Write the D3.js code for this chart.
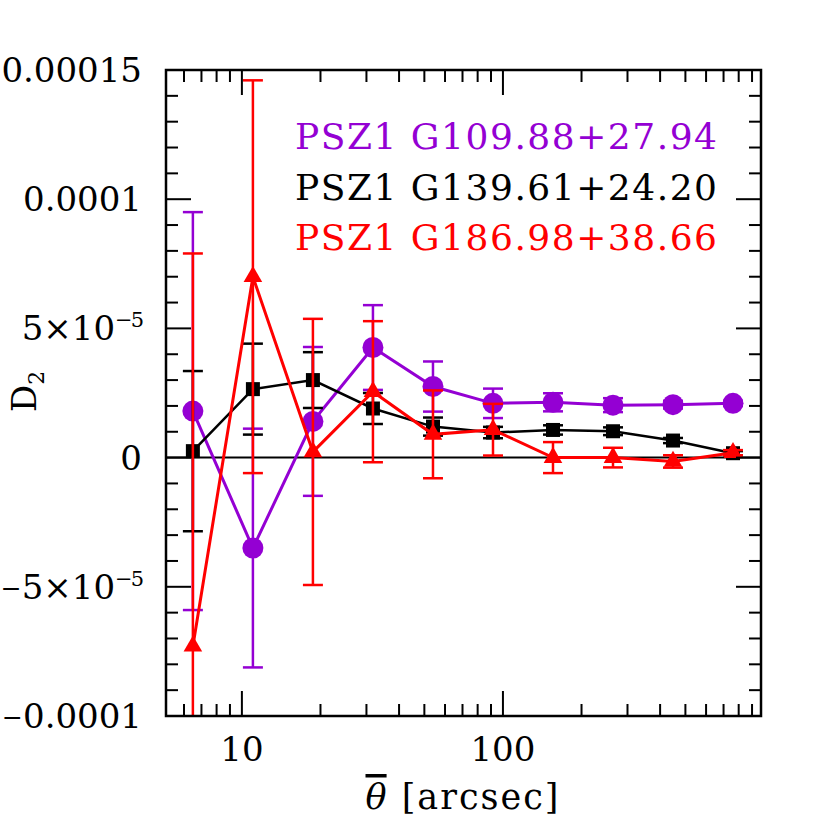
<!DOCTYPE html>
<html>
<head>
<meta charset="utf-8">
<script src="https://cdn.jsdelivr.net/npm/d3@7"></script>
<style>
  html, body { margin: 0; padding: 0; background: #fff; }
  svg text { font-family: "DejaVu Serif", serif; }
</style>
</head>
<body>
<svg id="chart" width="830" height="830"></svg>
<script>
// ---- data ----
const theta = [6.49, 11.02, 18.71, 31.77, 53.95, 91.6, 155.5, 264.0, 448.2, 760.8];

const seriesNames = ["PSZ1 G109.88+27.94", "PSZ1 G139.61+24.20", "PSZ1 G186.98+38.66"];
const seriesColors = ["#9400d3", "#000000", "#ff0000"];

// D2 values in units of 1e-5
const purpleD2  = [1.8, -3.5, 1.4, 4.26, 2.75, 2.1, 2.14, 2.03, 2.05, 2.1];
const purpleErr = [7.7, 4.62, 2.88, 1.64, 0.97, 0.57, 0.35, 0.27, 0.15, 0.1];
const blackD2   = [0.25, 2.65, 3.0, 1.9, 1.2, 0.97, 1.07, 1.02, 0.66, 0.17];
const blackErr  = [3.1, 1.76, 1.08, 0.6, 0.35, 0.22, 0.18, 0.15, 0.1, 0.08];
const redD2     = [-7.3, 7.0, 0.22, 2.55, 0.9, 1.08, 0.0, 0.0, -0.15, 0.19];
const redErr    = [15.2, 7.6, 5.15, 2.73, 1.7, 1.0, 0.6, 0.38, 0.24, 0.1];

const xMajorTicks = [10, 100];
const xMinorTicks = [6, 7, 8, 9, 20, 30, 40, 50, 60, 70, 80, 90, 200, 300, 400, 500, 600, 700, 800, 900];
const yMajorTicks = [-0.0001, -0.00005, 0, 0.00005, 0.0001, 0.00015];
// sign | mantissa | exponent
const yTickLabels = [["\u2212", "0.0001", ""], ["\u2212", "5\u00d710", "\u22125"], ["", "0", ""],
                     ["", "5\u00d710", "\u22125"], ["", "0.0001", ""], ["", "0.00015", ""]];
const yMinorStep = 0.00001;

const xDomain = [5.12, 974];
const yDomain = [-0.0001, 0.00015];

// ---- layout ----
const L = 166, T = 70, R = 761, B = 716;
const svg = d3.select("#chart");

const x = d3.scaleLog().domain(xDomain).range([L, R]);
const y = d3.scaleLinear().domain(yDomain).range([B, T]);

const series = [
  { name: seriesNames[0], color: seriesColors[0], v: purpleD2, e: purpleErr, marker: "circle", lw: 3 },
  { name: seriesNames[1], color: seriesColors[1], v: blackD2,  e: blackErr,  marker: "square", lw: 2.5 },
  { name: seriesNames[2], color: seriesColors[2], v: redD2,    e: redErr,    marker: "triangle", lw: 3 }
];

svg.append("defs").append("clipPath").attr("id", "plotclip")
  .append("rect").attr("x", L).attr("y", T).attr("width", R - L).attr("height", B - T);

const plot = svg.append("g").attr("clip-path", "url(#plotclip)");

// zero line
plot.append("line")
  .attr("x1", L).attr("x2", R).attr("y1", y(0)).attr("y2", y(0))
  .attr("stroke", "#000").attr("stroke-width", 2);

const capW = 10;
series.forEach(s => {
  const g = plot.append("g");
  const pts = theta.map((t, i) => ({ t, v: s.v[i] * 1e-5, e: s.e[i] * 1e-5 }));
  pts.forEach(p => {
    const cx = x(p.t);
    const y1 = y(p.v + p.e), y2 = y(p.v - p.e);
    g.append("line").attr("x1", cx).attr("x2", cx).attr("y1", y1).attr("y2", y2)
      .attr("stroke", s.color).attr("stroke-width", 2.5);
    [y1, y2].forEach(yy => g.append("line")
      .attr("x1", cx - capW).attr("x2", cx + capW).attr("y1", yy).attr("y2", yy)
      .attr("stroke", s.color).attr("stroke-width", 2.5));
  });
  g.append("path").datum(pts)
    .attr("d", d3.line().x(p => x(p.t)).y(p => y(p.v)))
    .attr("fill", "none").attr("stroke", s.color).attr("stroke-width", s.lw);
  let sym;
  if (s.marker === "circle") sym = d3.symbol().type(d3.symbolCircle).size(Math.PI * 10.5 * 10.5);
  else if (s.marker === "square") sym = d3.symbol().type(d3.symbolSquare).size(14 * 14);
  else sym = d3.symbol().type(d3.symbolTriangle).size(150);
  g.selectAll("path.m").data(pts).enter().append("path")
    .attr("class", "m")
    .attr("transform", p => `translate(${x(p.t)},${y(p.v)})`)
    .attr("d", sym).attr("fill", s.color);
});

// frame
svg.append("rect").attr("x", L).attr("y", T).attr("width", R - L).attr("height", B - T)
  .attr("fill", "none").attr("stroke", "#000").attr("stroke-width", 2.5);

// ticks
const tk = svg.append("g").attr("stroke", "#000").attr("stroke-width", 2);
const majLen = 25, minLen = 12;
function xTick(v, len) {
  const px = x(v);
  tk.append("line").attr("x1", px).attr("x2", px).attr("y1", B).attr("y2", B - len);
  tk.append("line").attr("x1", px).attr("x2", px).attr("y1", T).attr("y2", T + len);
}
xMajorTicks.forEach(v => xTick(v, majLen));
xMinorTicks.forEach(v => xTick(v, minLen));
function yTick(v, len) {
  const py = y(v);
  tk.append("line").attr("x1", L).attr("x2", L + len).attr("y1", py).attr("y2", py);
  tk.append("line").attr("x1", R).attr("x2", R - len).attr("y1", py).attr("y2", py);
}
const yMinors = d3.range(-10, 16).map(k => k * yMinorStep);
yMinors.forEach(v => {
  const isMajor = yMajorTicks.some(m => Math.abs(m - v) < 1e-9);
  yTick(v, isMajor ? majLen : minLen);
});

// tick labels
const fs = 34;
xMajorTicks.forEach(v => {
  svg.append("text").attr("x", x(v)).attr("y", 761)
    .attr("text-anchor", "middle").attr("font-size", fs).text(d3.format("d")(v));
});
yMajorTicks.forEach((v, i) => {
  const [sign, mant, exp] = yTickLabels[i];
  const t = svg.append("text").attr("x", 142).attr("y", y(v) + 12)
    .attr("text-anchor", "end").attr("font-size", fs);
  if (sign) t.append("tspan").attr("font-size", 25).attr("dy", -2).text(sign);
  t.append("tspan").attr("dy", sign ? 2 : 0).text(mant);
  if (exp) {
    t.append("tspan").attr("dy", -13).attr("font-size", 21).attr("letter-spacing", -2).text(exp);
  }
});

// axis titles
const xt = svg.append("text").attr("x", 462).attr("y", 809)
  .attr("text-anchor", "middle").attr("font-size", 35)
  .attr("textLength", 193).attr("lengthAdjust", "spacing");
xt.append("tspan").attr("font-style", "italic").style("text-decoration", "overline").text("\u03b8");
xt.append("tspan").text(" [arcsec]");

const yt = svg.append("text").attr("transform", "translate(36,412) rotate(-90)")
  .attr("text-anchor", "start").attr("font-size", fs);
yt.append("tspan").text("D");
yt.append("tspan").attr("dy", 8).attr("font-size", 22).text("2");

// legend
const legY = [149, 200, 250];
series.forEach((s, i) => {
  svg.append("text").attr("x", 295).attr("y", legY[i]).attr("font-size", 36)
    .attr("textLength", 422).attr("lengthAdjust", "spacing")
    .attr("fill", s.color).text(s.name);
});
</script>
</body>
</html>
